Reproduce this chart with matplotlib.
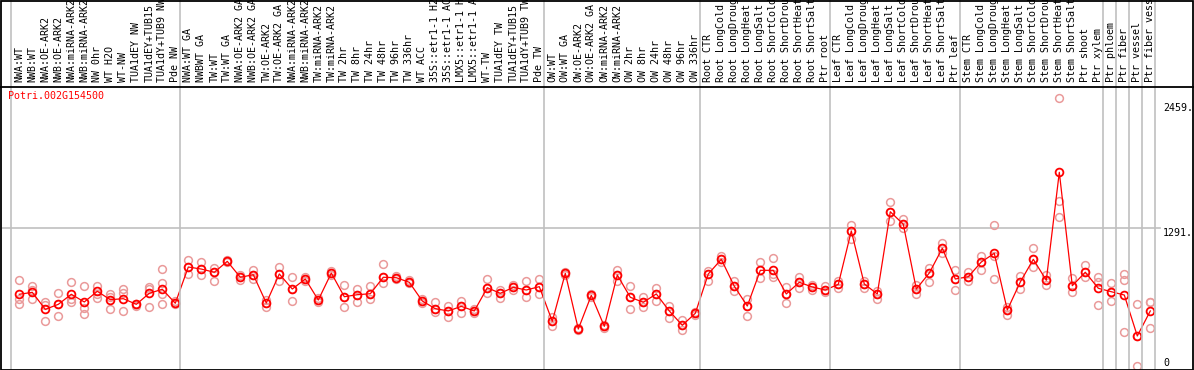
import numpy as np
import matplotlib
matplotlib.use("Agg")
import matplotlib.pyplot as plt
from matplotlib.transforms import blended_transform_factory
from matplotlib.lines import Line2D
from matplotlib.patches import Rectangle

# gene shown in the chart
gene = "Potri.002G154500"

# sample names (as shown, cut to 14 characters)
samples = [
    "NWA:WT", "NWB:WT", "NWA:OE-ARK2", "NWB:OE-ARK2", "NWA:miRNA-ARK2", "NWB:miRNA-ARK2",
    "NW 0hr", "WT H2O", "WT-NW", "TUA1dEY NW", "TUA1dEY+TUB15", "TUA1dY+TUB9 NW", "Pde NW",
    "NWA:WT GA", "NWBWT GA", "TW:WT", "TW:WT GA", "NWA:OE-ARK2 GA", "NWB:OE-ARK2 GA",
    "TW:OE-ARK2", "TW:OE-ARK2 GA", "NWA:miRNA-ARK2", "NWB:miRNA-ARK2", "TW:miRNA-ARK2",
    "TW:miRNA-ARK2", "TW 2hr", "TW 8hr", "TW 24hr", "TW 48hr", "TW 96hr", "TW 336hr",
    "WT ACC", "35S::etr1-1 H2", "35S::etr1-1 AC", "LMX5::etr1-1 H", "LMX5::etr1-1 A",
    "WT-TW", "TUA1dEY TW", "TUA1dEY+TUB15", "TUA1dY+TUB9 TW", "Pde TW",
    "OW:WT", "OW:WT GA", "OW:OE-ARK2", "OW:OE-ARK2 GA", "OW:miRNA-ARK2", "OW:miRNA-ARK2",
    "OW 2hr", "OW 8hr", "OW 24hr", "OW 48hr", "OW 96hr", "OW 336hr",
    "Root CTR", "Root LongCold", "Root LongDroug", "Root LongHeat", "Root LongSalt",
    "Root ShortCold", "Root ShortDrou", "Root ShortHeat", "Root ShortSalt", "Ptr root",
    "Leaf CTR", "Leaf LongCold", "Leaf LongDroug", "Leaf LongHeat", "Leaf LongSalt",
    "Leaf ShortCold", "Leaf ShortDrou", "Leaf ShortHeat", "Leaf ShortSalt", "Ptr leaf",
    "Stem CTR", "Stem LongCold", "Stem LongDroug", "Stem LongHeat", "Stem LongSalt",
    "Stem ShortCold", "Stem ShortDrou", "Stem ShortHeat", "Stem ShortSalt", "Ptr shoot",
    "Ptr xylem", "Ptr phloem", "Ptr fiber", "Ptr vessel", "Ptr fiber vess",
]

# first sample of each group (last entry closes the final group)
group_starts = [0, 13, 41, 53, 63, 73, 84, 85, 86, 87, 88]

# mean expression per sample
means = [
    671, 689, 530, 577, 671, 599, 699, 620, 630, 577, 680, 718, 587,
    926, 907, 877, 979, 830, 854, 589, 861, 720, 814, 617, 870, 648, 667, 676, 830, 826, 783,
    608, 536, 515, 558, 515, 732, 680, 736, 711, 742,
    418, 867, 346, 661, 371, 851, 643, 596, 674, 515, 381, 493,
    861, 998, 746, 561, 895, 895, 674, 783, 739, 711,
    764, 1263, 767, 674, 1443, 1326, 720, 870, 1101, 814,
    835, 973, 1054, 524, 786, 998, 802, 1812, 751, 877, 727,
    695, 664, 281, 515,
]

# replicate values per sample
replicates = [
    [802, 624, 577], [748, 711, 624], [601, 571, 418], [680, 577, 471], [786, 627, 601],
    [751, 545, 484], [748, 671, 639], [676, 643, 530], [720, 683, 512], [580, 561, 577],
    [742, 723, 555], [905, 776, 671, 577], [608, 577, 589],
    [989, 861, 926], [976, 848, 907], [914, 795, 877], [992, 973, 979], [854, 805, 830],
    [898, 817, 854], [620, 555, 589], [926, 795, 861], [830, 605, 720], [833, 814, 795],
    [636, 599, 617], [891, 851, 870], [758, 555, 648], [718, 599, 667], [748, 627, 676],
    [951, 774, 830], [840, 826, 812], [805, 776, 783],
    [627, 587, 608], [599, 505, 536], [561, 461, 515], [605, 493, 558], [536, 499, 515],
    [814, 680, 732], [711, 633, 680], [736, 758, 711], [795, 648, 711], [811, 676, 742],
    [461, 374, 418], [880, 867, 852], [358, 346, 334], [672, 661, 650], [383, 371, 360],
    [901, 795, 851], [746, 530, 643], [648, 549, 596], [727, 611, 674], [561, 446, 515],
    [430, 337, 381], [505, 493, 481],
    [886, 798, 861], [1029, 998, 973], [792, 704, 746], [624, 471, 561], [973, 819, 895],
    [1008, 830, 861], [736, 587, 674], [833, 732, 783], [755, 711, 739], [748, 692, 711],
    [798, 727, 764], [1319, 1191, 1263], [798, 727, 767], [702, 630, 674], [1531, 1359, 1443],
    [1378, 1288, 1326], [761, 674, 720], [920, 789, 870], [1148, 1054, 1101], [895, 708, 814],
    [879, 792, 835], [1025, 895, 973], [1316, 811, 1029], [555, 480, 524], [842, 718, 786],
    [1101, 929, 998], [851, 755, 802], [2504, 1541, 1397], [826, 692, 751], [945, 835, 877],
    [835, 786, 568],
    [774, 605, 695], [861, 802, 315], [577, 0, 281], [596, 353, 599],
]

ytick_vals = [2459, 1291, 0]
ytick_labels = ["2459.", "1291.", "0"]

W, H = 1194, 370
fig = plt.figure(figsize=(W / 100, H / 100), dpi=100)
font = dict(family="DejaVu Sans Mono", fontsize=7.2)

# plot area in pixels: x 2..1193, y 88..369 (from top)
ax = fig.add_axes([2 / W, 1 / H, 1191 / W, 281 / H])
ax.set_axis_off()
x0, step = 19.3, 13.0
ax.set_xlim((2 - x0) / step, (1193 - x0) / step)
scale = 1291 / 138.0
ax.set_ylim((366 - 369) * scale, (366 - 88) * scale)

x = np.arange(len(samples))

# gridline
ax.axhline(1291, xmin=0, xmax=0.972, color="#c0c0c0", lw=1.2, zorder=1)

# group separators (run through the header too)
tr_v = blended_transform_factory(ax.transData, fig.transFigure)
for g in group_starts:
    fig.add_artist(Line2D([g - 8 / step, g - 8 / step], [1 / H, 1], transform=tr_v,
                          color="#c0c0c0", lw=1.2, zorder=1))

# replicates
for i, reps in enumerate(replicates):
    ax.plot([x[i]] * len(reps), reps, "o", ms=5.6, mfc="none", mec="#ea9a9a",
            mew=1.1, zorder=2, clip_on=True)

# mean line and markers
ax.plot(x, means, "-", color="#ff0000", lw=0.9, zorder=3)
ax.plot(x, means, "o", ms=5.6, mfc="none", mec="#ff0000", mew=1.3, zorder=4)

# sample labels in header
for i, name in enumerate(samples):
    ax.text(x[i], 1 - 82 / H, name, rotation=90, ha="center", va="bottom",
            transform=tr_v, clip_on=False, color="black", **font)

# y labels at right
tr_y = blended_transform_factory(fig.transFigure, ax.transData)
for v, lab in zip(ytick_vals, ytick_labels):
    va = "baseline" if v == 0 else "top"
    fig.text(1163 / W, v, lab, transform=tr_y, ha="left", va=va, color="black", **font)

# gene title
fig.text(8 / W, 1 - 91 / H, gene, ha="left", va="top", color="#ff0000", **font)

# frame and header separator
fig.add_artist(Rectangle((1 / W, 0.5 / H), 1192 / W, (H - 1) / H, transform=fig.transFigure,
                         fill=False, ec="black", lw=1.3, zorder=5))
fig.add_artist(Line2D([0, 1], [1 - 86.5 / H, 1 - 86.5 / H], transform=fig.transFigure,
                      color="black", lw=1.3, zorder=5))

fig.savefig("out.png", dpi=100)
